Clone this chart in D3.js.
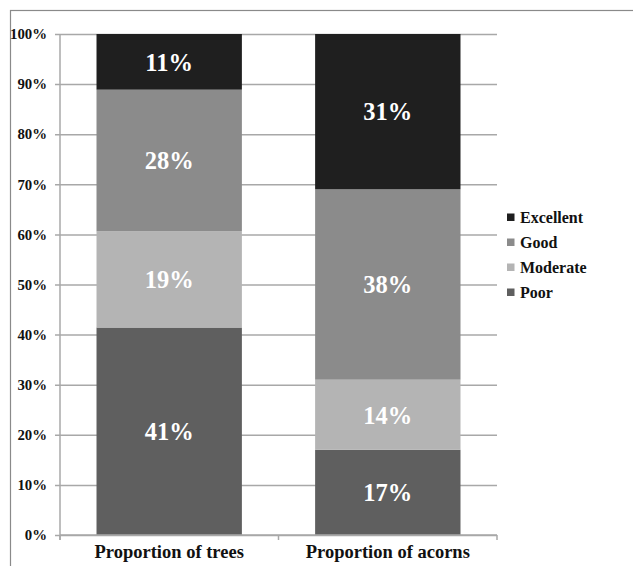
<!DOCTYPE html>
<html>
<head>
<meta charset="utf-8">
<script src="https://cdn.jsdelivr.net/npm/d3@7/dist/d3.min.js"></script>
<style>
  html, body { margin: 0; padding: 0; background: #fff; }
  svg { display: block; }
  text { font-family: "Liberation Serif", "Times New Roman", serif; font-weight: bold; }
</style>
</head>
<body>
<svg id="chart" width="633" height="566"></svg>
<script>
// Condition classes, bottom to top of each stack
const conditions = ["Poor", "Moderate", "Good", "Excellent"];
const categories = ["Proportion of trees", "Proportion of acorns"];
// Percent of each group in each condition class
const poor      = [41, 17];
const moderate  = [19, 14];
const good      = [28, 38];
const excellent = [11, 31];
const yTicks = [0, 0.1, 0.2, 0.3, 0.4, 0.5, 0.6, 0.7, 0.8, 0.9, 1.0];
const legendOrder = ["Excellent", "Good", "Moderate", "Poor"];

const colors = {
  Poor: "#5f5f5f",
  Moderate: "#b4b4b4",
  Good: "#8b8b8b",
  Excellent: "#1f1f1f"
};

const rows = categories.map((c, i) => ({
  category: c,
  Poor: poor[i],
  Moderate: moderate[i],
  Good: good[i],
  Excellent: excellent[i]
}));

const svg = d3.select("#chart");

// Chart frame
svg.append("rect")
  .attr("x", 10.5).attr("y", 10.5)
  .attr("width", 640).attr("height", 580)
  .attr("fill", "none").attr("stroke", "#8a8a8a").attr("stroke-width", 1.2);

const plot = { left: 60, right: 497, top: 34, bottom: 535 };

const x = d3.scaleBand()
  .domain(categories)
  .range([plot.left, plot.right])
  .paddingInner(0.335)
  .paddingOuter(0.167);

const y = d3.scaleLinear().domain([0, 1]).range([plot.bottom, plot.top]);

// 100% stacked: each column normalised to its own total
const stack = d3.stack().keys(conditions).offset(d3.stackOffsetExpand);
const series = stack(rows);

// Gridlines with short outward ticks
const yAxis = d3.axisLeft(y).tickValues(yTicks)
  .tickFormat(d3.format(".0%"))
  .tickSize(-(plot.right - plot.left)).tickPadding(8);

const gy = svg.append("g").attr("transform", `translate(${plot.left},0)`).call(yAxis);
gy.select(".domain").remove();
gy.selectAll(".tick line")
  .attr("x1", -5)
  .attr("stroke", "#a8a8a8").attr("stroke-width", 1.5);
gy.selectAll(".tick text")
  .attr("fill", "#111").attr("font-size", 14.8)
  .attr("x", -13);

// Vertical axis line
svg.append("line")
  .attr("x1", plot.left).attr("x2", plot.left)
  .attr("y1", plot.top).attr("y2", plot.bottom + 5)
  .attr("stroke", "#a8a8a8").attr("stroke-width", 1.5);

// Bars
const layers = svg.append("g").selectAll("g").data(series).join("g")
  .attr("fill", d => colors[d.key]);

layers.selectAll("rect").data(d => d.map(v => ({ key: d.key, v })))
  .join("rect")
  .attr("x", d => x(d.v.data.category))
  .attr("width", x.bandwidth())
  .attr("y", d => y(d.v[1]))
  .attr("height", d => y(d.v[0]) - y(d.v[1]));

// Value labels inside segments
layers.selectAll("text").data(d => d.map(v => ({ key: d.key, v })))
  .join("text")
  .attr("x", d => x(d.v.data.category) + x.bandwidth() / 2)
  .attr("y", d => (y(d.v[0]) + y(d.v[1])) / 2)
  .attr("dy", "0.36em")
  .attr("text-anchor", "middle")
  .attr("fill", "#fff")
  .attr("font-size", 24.5)
  .text(d => d.v.data[d.key] + "%");

// Category axis
const xAxis = d3.axisBottom(x).tickSize(0).tickPadding(0);
const gx = svg.append("g").attr("transform", `translate(0,${plot.bottom})`).call(xAxis);
gx.select(".domain").attr("stroke", "#a8a8a8").attr("stroke-width", 1.5)
  .attr("d", `M${plot.left},0H${plot.right}`);
gx.selectAll(".tick text").attr("fill", "#111").attr("font-size", 18.5)
  .attr("y", 23).attr("dy", "0");

// Tick marks between categories
const boundaries = [plot.left, (x(categories[0]) + x.bandwidth() + x(categories[1])) / 2, plot.right];
svg.append("g").selectAll("line").data(boundaries).join("line")
  .attr("x1", d => d).attr("x2", d => d)
  .attr("y1", plot.bottom).attr("y2", plot.bottom + 5)
  .attr("stroke", "#a8a8a8").attr("stroke-width", 1.5);

// Legend
const legend = svg.append("g").attr("transform", "translate(507,217)");
const li = legend.selectAll("g").data(legendOrder).join("g")
  .attr("transform", (d, i) => `translate(0,${i * 25})`);
li.append("rect").attr("x", 0).attr("y", -3.5).attr("width", 7.5).attr("height", 7.5)
  .attr("fill", d => colors[d]);
li.append("text").attr("x", 13).attr("dy", "0.35em")
  .attr("fill", "#111").attr("font-size", 16).text(d => d);
</script>
</body>
</html>
